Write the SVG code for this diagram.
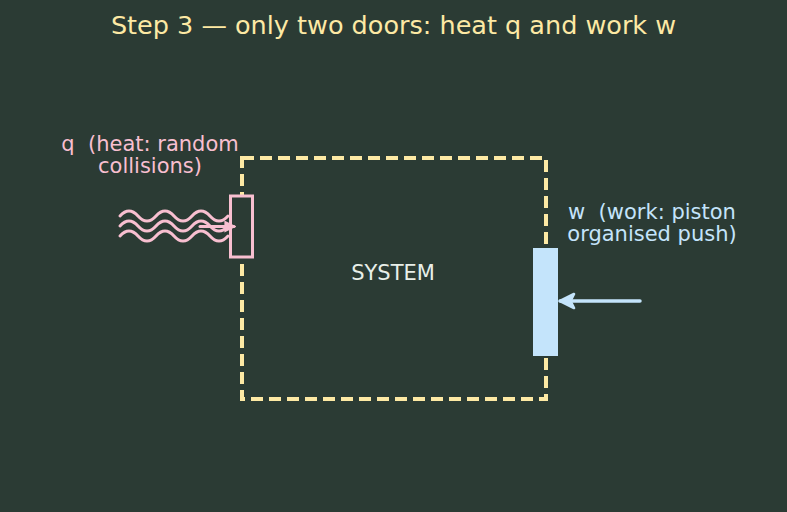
<svg xmlns="http://www.w3.org/2000/svg" width="787" height="512" viewBox="0 0 787 512">
<defs>
<style>
text{font-family:"DejaVu Sans",sans-serif;white-space:pre}
.title{font-size:25.5px;fill:#fde9a4}
.lbl{font-size:21px}
.pink{stroke:#f8bfd0;fill:none;stroke-width:3;stroke-linecap:round}
.blue{stroke:#c4e4fb;fill:none;stroke-width:3.5;stroke-linecap:round}
</style>
<marker id="ap" viewBox="0 0 10 10" refX="8" refY="5" markerWidth="4" markerHeight="4" orient="auto"><path d="M0,0L10,5L0,10z" fill="#f8bfd0"/></marker>
<marker id="ab" viewBox="0 0 10 10" refX="9" refY="5" markerWidth="5" markerHeight="5" orient="auto"><path d="M1,1L9,5L1,9L3,5z" fill="#c4e4fb" stroke="#c4e4fb" stroke-width="1.5" stroke-linejoin="round"/></marker>
</defs>
<rect width="787" height="512" fill="#2b3b34"/>
<text class="title" x="393.5" y="34" text-anchor="middle" xml:space="preserve">Step 3 — only two doors: heat q and work w</text>
<g id="system">
<rect x="242" y="158" width="304" height="241" fill="none" stroke="#fde9a4" stroke-width="4" stroke-dasharray="12 6"/>
<text class="lbl" x="393" y="280" text-anchor="middle" fill="#e8efe9">SYSTEM</text>
</g>
<g id="heat">
<rect x="230.5" y="196" width="22" height="61" fill="#2b3b34" stroke="#f8bfd0" stroke-width="3"/>
<text class="lbl" x="150" y="151" text-anchor="middle" fill="#f8bfd0" xml:space="preserve">q  (heat: random</text>
<text class="lbl" x="150" y="173" text-anchor="middle" fill="#f8bfd0">collisions)</text>
</g>
<g id="work">
<rect x="533" y="248" width="25" height="108" fill="#c4e4fb"/>
<text class="lbl" x="652" y="219" text-anchor="middle" fill="#c4e4fb" xml:space="preserve">w  (work: piston</text>
<text class="lbl" x="652" y="241" text-anchor="middle" fill="#c4e4fb">organised push)</text>
</g>
<g id="connectors">
<path class="pink" d="M120,216 q9,-10 18,0 t18,0 t18,0 t18,0 t18,0 t18,0"/>
<path class="pink" d="M120,226 q9,-10 18,0 t18,0 t18,0 t18,0 t18,0 t18,0"/>
<path class="pink" d="M120,236 q9,-10 18,0 t18,0 t18,0 t18,0 t18,0 t18,0"/>
<path class="pink" d="M200,226.5 L234,226.5" marker-end="url(#ap)"/>
<path class="blue" d="M640,301 L560,301" marker-end="url(#ab)"/>
</g>
</svg>
